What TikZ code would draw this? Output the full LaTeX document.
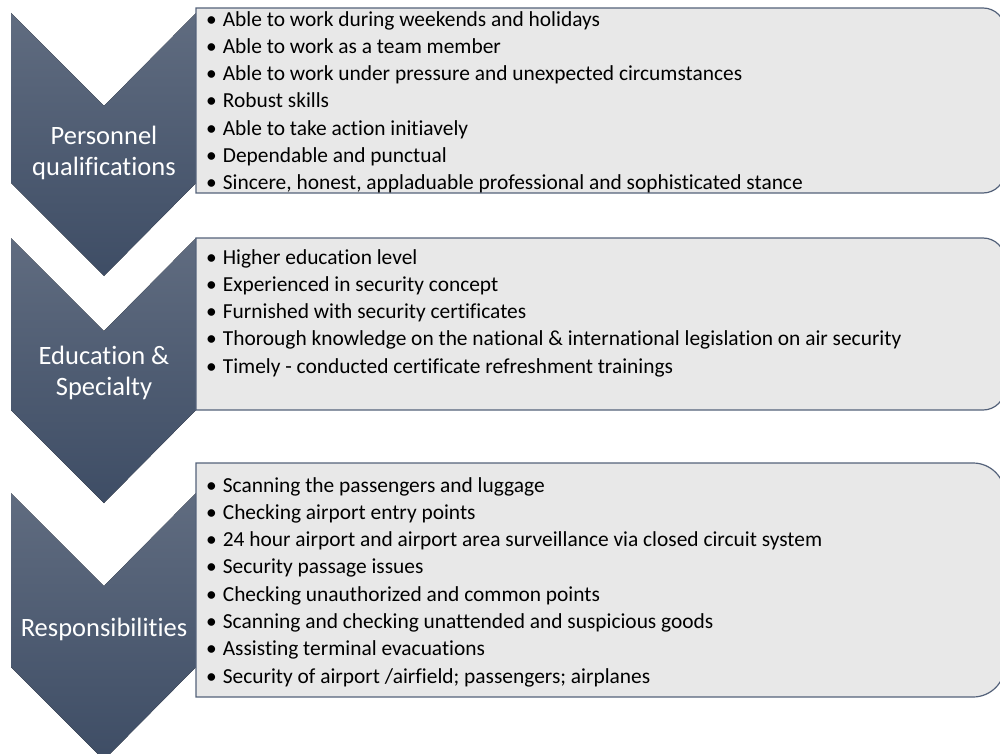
\documentclass[tikz,border=0pt]{standalone}
\usepackage{fontspec}
\setmainfont{Carlito}[Ligatures=NoCommon]
\usepackage{tikz}
\definecolor{chevtop}{RGB}{96,108,128}
\definecolor{chevbot}{RGB}{62,77,101}
\definecolor{boxfill}{RGB}{232,232,232}
\definecolor{boxedge}{RGB}{84,98,122}
\tikzstyle{chevron} = [top color=chevtop, middle color=chevbot, bottom color=chevbot]
\tikzstyle{listbox} = [fill=boxfill, draw=boxedge, line width=1.2pt]
\tikzstyle{heading} = [text=white, align=center, inner sep=0pt, font=\fontsize{26.5}{31}\selectfont]
\tikzstyle{items} = [anchor=north west, align=left, inner sep=0pt, font=\fontsize{21.4}{27.3}\selectfont]
\newcommand{\itm}{\textbullet\hspace{6pt}}

\begin{document}
\begin{tikzpicture}[x=1pt, y=-1pt]
			\clip (0,0) rectangle (1000,754);
			
			\fill[chevron] (11,13) -- (104,106) -- (196,13) -- (196,183) -- (104,276) -- (11,183) -- cycle;
			\fill[chevron] (11,238) -- (104,331) -- (196,238) -- (196,410) -- (104,503) -- (11,410) -- cycle;
			\fill[chevron] (11,493) -- (104,586) -- (196,493) -- (196,667) -- (104,760) -- (11,667) -- cycle;
			
			\draw[listbox] (196,8) -- (983,8) arc[start angle=-90, end angle=0, radius=22] -- (1005,171) arc[start angle=0, end angle=90, radius=22] -- (196,193) -- cycle;
			\draw[listbox] (196,238) -- (983,238) arc[start angle=-90, end angle=0, radius=22] -- (1005,388) arc[start angle=0, end angle=90, radius=22] -- (196,410) -- cycle;
			\draw[listbox] (196,463) -- (973,463) arc[start angle=-90, end angle=0, radius=32] -- (1005,665) arc[start angle=0, end angle=90, radius=32] -- (196,697) -- cycle;
			
			\node[heading](quals) at (104,152.5){Personnel\\qualifications};
			\node[heading](educ) at (104,373){Education \&\\Specialty};
			\node[heading](resp) at (104,629){Responsibilities};
			
			\node[items](qualslist) at (206,11){\itm Able to work during weekends and holidays\\
				\itm Able to work as a team member\\
				\itm Able to work under pressure and unexpected circumstances\\
				\itm Robust skills\\
				\itm Able to take action initiavely\\
				\itm Dependable and punctual\\
				\itm Sincere, honest, appladuable professional and sophisticated stance};
			\node[items](educlist) at (206,249){\itm Higher education level\\
				\itm Experienced in security concept\\
				\itm Furnished with security certificates\\
				\itm Thorough knowledge on the national \& international legislation on air security\\
				\itm Timely - conducted certificate refreshment trainings};
			\node[items](resplist) at (206,477){\itm Scanning the passengers and luggage\\
				\itm Checking airport entry points\\
				\itm 24 hour airport and airport area surveillance via closed circuit system\\
				\itm Security passage issues\\
				\itm Checking unauthorized and common points\\
				\itm Scanning and checking unattended and suspicious goods\\
				\itm Assisting terminal evacuations\\
				\itm Security of airport /airfield; passengers; airplanes};
		\end{tikzpicture}
\end{document}
